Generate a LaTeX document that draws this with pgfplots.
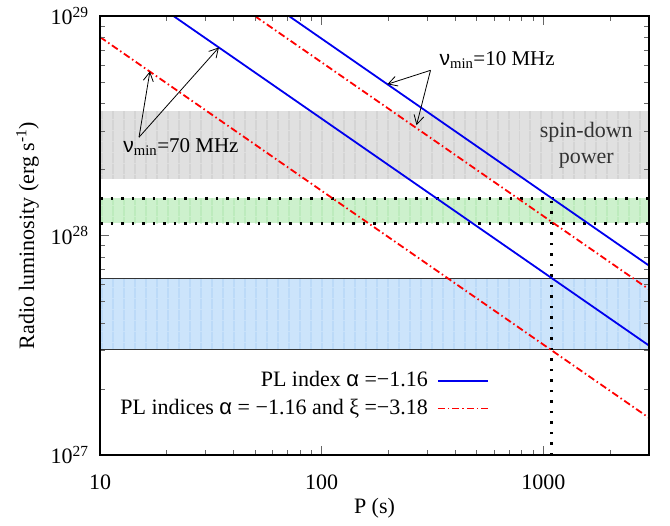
\documentclass[border=0pt]{standalone}
\usepackage{pgfplots}
\pgfplotsset{compat=1.18}
\usepackage{fontspec}
\setmainfont{Liberation Serif}
\newfontfamily\grfont{Liberation Sans}
\newcommand{\galpha}{\begingroup\grfont α\endgroup}
\newcommand{\gnu}{\begingroup\grfont ν\endgroup}
\usetikzlibrary{patterns.meta,arrows.meta}

\definecolor{bandgray}{HTML}{E0E0E0}
\definecolor{linegray}{HTML}{BEBEBE}
\definecolor{bandgreen}{HTML}{CDF1CD}
\definecolor{linegreen}{HTML}{A2E2A2}
\definecolor{bandblue}{HTML}{CCE4FB}
\definecolor{lineblue}{HTML}{A0CAF5}
\definecolor{plblue}{HTML}{0000EE}
\definecolor{plred}{HTML}{FF0000}

\begin{document}
\fontsize{22}{26}\selectfont
\begin{tikzpicture}
\begin{axis}[
    name=ax,
    width=549pt, height=439pt,
    scale only axis,
    xmode=log, ymode=log,
    xmin=10, xmax=3000,
    ymin=1e27, ymax=1e29,
    xtick={10,100,1000},
    xticklabels={10,100,1000},
    minor xtick={20,30,40,50,60,70,80,90,200,300,400,500,600,700,800,900,2000},
    ytick={1e27,1e28,1e29},
    yticklabels={10\textsuperscript{27},10\textsuperscript{28},10\textsuperscript{29}},
    minor ytick={2e27,3e27,4e27,5e27,6e27,7e27,8e27,9e27,2e28,3e28,4e28,5e28,6e28,7e28,8e28,9e28},
    tick align=inside,
    major tick length=9pt,
    minor tick length=5pt,
    tick style={black!60, line width=0.8pt},
    axis line style={line width=1.6pt},
    axis on top,
    xticklabel style={yshift=-12pt},
    yticklabel style={xshift=-4pt},
    xlabel={P (s)},
    ylabel={Radio luminosity (erg s\textsuperscript{-1})},
    every axis x label/.style={at={(axis description cs:0.5,-0.121)}, anchor=center},
    every axis y label/.style={at={(axis description cs:-0.132,0.5)}, rotate=90, anchor=center},
    legend plot pos=right,
    legend cell align=right,
    legend image code/.code={\draw[#1] (0pt,0pt) -- (50pt,0pt);},
    legend style={draw=none, fill=none, at={(axis description cs:0.712,0.2)},
        anchor=north east, row sep=5pt, column sep=7pt, inner sep=2pt,
        font=\fontsize{22}{26}\selectfont},
]
% spin-down power band
\addplot[draw=none, fill=bandgray,
    postaction={pattern={Lines[angle=90,distance=10.5pt,line width=0.9pt]}, pattern color=linegray},
    forget plot]
    coordinates {(10,1.82e28) (3000,1.82e28) (3000,3.69e28) (10,3.69e28)} -- cycle;
% green band
\addplot[draw=none, fill=bandgreen,
    postaction={pattern={Lines[angle=90,distance=10.5pt,line width=0.9pt]}, pattern color=linegreen},
    forget plot]
    coordinates {(10,1.14e28) (3000,1.14e28) (3000,1.48e28) (10,1.48e28)} -- cycle;
% blue band
\addplot[draw=none, fill=bandblue,
    postaction={pattern={Lines[angle=90,distance=10.5pt,line width=0.9pt]}, pattern color=lineblue},
    forget plot]
    coordinates {(10,3.04e27) (3000,3.04e27) (3000,6.39e27) (10,6.39e27)} -- cycle;
\addplot[black!80, line width=1pt, forget plot] coordinates {(10,6.39e27) (3000,6.39e27)};
\addplot[black!80, line width=1pt, forget plot] coordinates {(10,3.04e27) (3000,3.04e27)};
% dotted borders and period
\addplot[black, line width=3pt, dash pattern=on 2.5pt off 8pt, forget plot] coordinates {(10,1.48e28) (3000,1.48e28)};
\addplot[black, line width=3pt, dash pattern=on 2.5pt off 8pt, forget plot] coordinates {(10,1.14e28) (3000,1.14e28)};
\addplot[black, line width=3pt, dash pattern=on 2.5pt off 8pt, forget plot] coordinates {(1091,1e27) (1091,1.48e28)};

% PL lines
\addplot[color=plblue, line width=1.8pt] coordinates {(10,3.96e29) (3000,7.31e27)};
\addlegendentry{PL index \galpha\ =\textminus1.16}
\addplot[color=plred, line width=1.8pt, dash pattern=on 7pt off 3pt on 1.5pt off 3pt] coordinates {(10,3.09e29) (3000,5.70e27)};
\addlegendentry{PL indices \galpha\ = \textminus1.16 and ξ =\textminus3.18}
\addplot[color=plblue, line width=1.8pt, forget plot] coordinates {(10,1.71e29) (3000,3.16e27)};
\addplot[color=plred, line width=1.8pt, dash pattern=on 7pt off 3pt on 1.5pt off 3pt, forget plot] coordinates {(10,8.04e28) (3000,1.48e27)};

% annotations
\node[anchor=base west, font=\fontsize{21}{25}\selectfont] at (axis cs:315,5.98e28) {\gnu\textsubscript{min}=10 MHz};
\draw[-{Straight Barb[length=9pt,width=10pt]}, line width=0.8pt] (axis cs:310,5.67e28) -- (axis cs:198,4.90e28);
\draw[-{Straight Barb[length=9pt,width=10pt]}, line width=0.8pt] (axis cs:310,5.67e28) -- (axis cs:268,3.19e28);
\node[anchor=base west, font=\fontsize{21}{25}\selectfont] at (axis cs:11.8,2.40e28) {\gnu\textsubscript{min}=70 MHz};
\draw[-{Straight Barb[length=9pt,width=10pt]}, line width=0.8pt] (axis cs:15.0,2.81e28) -- (axis cs:16.8,5.61e28);
\draw[-{Straight Barb[length=9pt,width=10pt]}, line width=0.8pt] (axis cs:15.0,2.81e28) -- (axis cs:34.4,7.21e28);
\node[align=center, text=black!80] at (axis cs:1563,2.58e28) {spin-down\\power};
\end{axis}
\path (ax.south west) ++(-100pt,-69pt) rectangle ++(670pt,522pt);
\end{tikzpicture}
\end{document}
